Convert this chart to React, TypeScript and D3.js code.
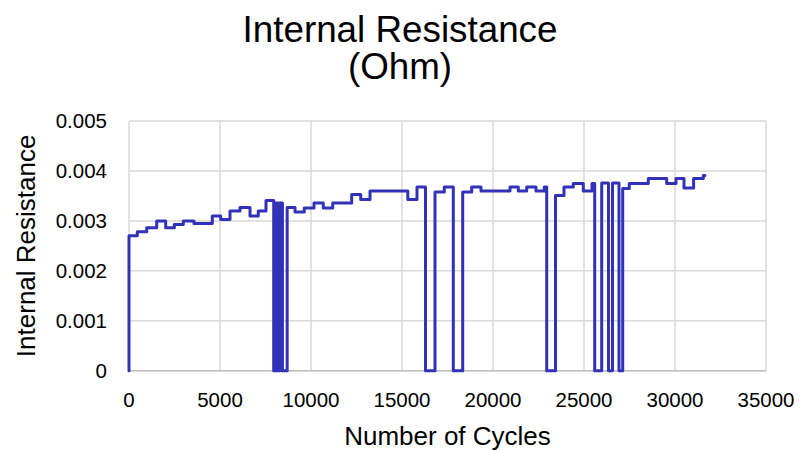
import React from "react";
import * as d3 from "d3";

const cycles = [
  0, 0, 456, 973, 1522, 2016, 2489, 2984, 3571, 4577, 5038, 5549, 6099, 6648, 7104, 7527,
  7951, 8020, 8100, 8170, 8250, 8300, 8430, 8690,
  9121, 9632, 10165, 10676, 11192, 12236, 12731, 13242, 15319, 15824,
  16291, 16813, 17324, 17819, 18335, 18830, 19341, 20934, 21390, 21852, 22363, 22819,
  22951, 23434, 23901, 24412, 24962, 25439, 25588, 25973, 26346, 26566, 26923, 27126,
  27489, 28533, 29544, 30055, 30494, 31022, 31555, 31648,
];
const resistance = [
  0, 0.0027, 0.00278, 0.00286, 0.003, 0.00286, 0.00293, 0.003, 0.00295, 0.0031, 0.00303, 0.0032, 0.00327, 0.0031, 0.0032, 0.00341,
  0, 0.00336, 0, 0.00336, 0, 0.00336, 0, 0.00327,
  0.00318, 0.00326, 0.00336, 0.00326, 0.00336, 0.00353, 0.00343, 0.0036, 0.00343, 0.00368,
  0, 0.00358, 0.00368, 0, 0.00358, 0.00368, 0.0036, 0.00368, 0.0036, 0.00368, 0.0036, 0.00368,
  0, 0.00351, 0.00368, 0.00375, 0.0036, 0.00375, 0, 0.00376, 0, 0.00376, 0, 0.00365,
  0.00375, 0.00385, 0.00375, 0.00385, 0.00366, 0.00385, 0.00391, 0.00391,
];
const xTicks = [0, 5000, 10000, 15000, 20000, 25000, 30000, 35000];
const yTicks = [0, 0.001, 0.002, 0.003, 0.004, 0.005];
const titleLines = ["Internal Resistance", "(Ohm)"];
const xTitle = "Number of Cycles";
const yTitle = "Internal Resistance";

export default function App() {
  const W = 800;
  const H = 450;
  const left = 129;
  const right = 766;
  const top = 121;
  const bottom = 370.7;
  const x = d3.scaleLinear().domain([0, 35000]).range([left, right]);
  const y = d3.scaleLinear().domain([0, 0.005]).range([bottom, top]);
  const pts: [number, number][] = cycles.map((c, i) => [c, resistance[i]]);
  const line = d3
    .line<[number, number]>()
    .x((d) => x(d[0]))
    .y((d) => y(d[1]))
    .curve(d3.curveStepAfter);
  const font = "'Liberation Sans', Arial, sans-serif";
  const fmtY = (v: number) => (v === 0 ? "0" : v.toFixed(3));
  return (
    <svg
      width={W}
      height={H}
      style={{ position: "absolute", left: 0, top: 0, background: "#fff" }}
      fontFamily={font}
    >
      <rect x={0} y={0} width={W} height={H} fill="#fff" />
      {xTicks.map((t) => (
        <line key={"gx" + t} x1={x(t)} x2={x(t)} y1={top} y2={bottom} stroke="#d9d9d9" strokeWidth={1.5} />
      ))}
      {yTicks.map((t) => (
        <line key={"gy" + t} x1={left} x2={right} y1={y(t)} y2={y(t)} stroke="#d9d9d9" strokeWidth={1.5} />
      ))}
      <line x1={left} x2={right} y1={bottom} y2={bottom} stroke="#bfbfbf" strokeWidth={1.5} />
      <path
        d={line(pts) || ""}
        fill="none"
        stroke="#3232b9"
        strokeWidth={3}
        strokeLinejoin="round"
        strokeLinecap="round"
      />
      {yTicks.map((t) => (
        <text key={"ty" + t} x={107} y={y(t)} dy="0.35em" textAnchor="end" fontSize={20.5} fill="#000">
          {fmtY(t)}
        </text>
      ))}
      {xTicks.map((t) => (
        <text key={"tx" + t} x={x(t)} y={407} textAnchor="middle" fontSize={20.5} fill="#000">
          {String(t)}
        </text>
      ))}
      <text x={(left + right) / 2} y={445} textAnchor="middle" fontSize={26} fill="#000">
        {xTitle}
      </text>
      <text
        transform={`translate(34.5, ${(top + bottom) / 2}) rotate(-90)`}
        textAnchor="middle"
        fontSize={26}
        fill="#000"
      >
        {yTitle}
      </text>
      {titleLines.map((t, i) => (
        <text key={t} x={400} y={41.5 + i * 37.5} textAnchor="middle" fontSize={36.8} fill="#000">
          {t}
        </text>
      ))}
    </svg>
  );
}
